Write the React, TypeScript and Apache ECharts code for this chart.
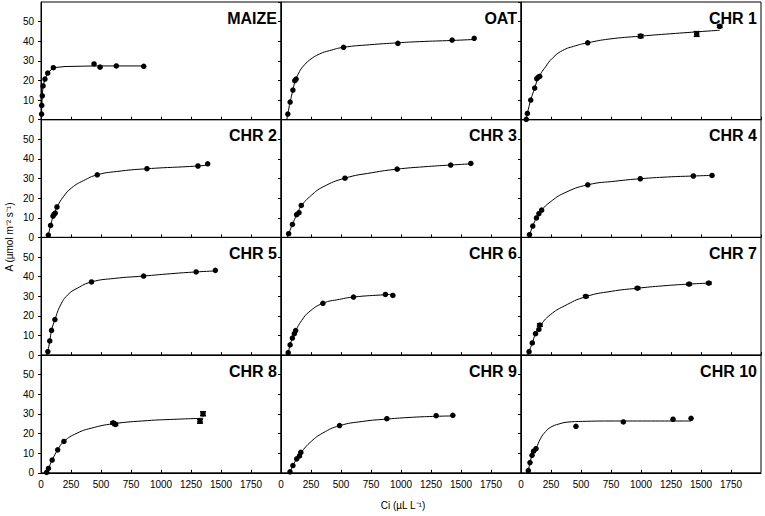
import React, { useEffect, useRef } from "react";
import * as echarts from "echarts";

// ---- Data (Ci in µL L-1, A in µmol m-2 s-1) ----
const panelNames = ["MAIZE", "OAT", "CHR 1", "CHR 2", "CHR 3", "CHR 4", "CHR 5", "CHR 6", "CHR 7", "CHR 8", "CHR 9", "CHR 10"];

const xTickLabels = ["0", "250", "500", "750", "1000", "1250", "1500", "1750"];
const yTickLabels = ["0", "10", "20", "30", "40", "50"];

const maizePts = [[5, 2.9], [6, 7.3], [11, 12.2], [17, 17.2], [33, 20.7], [56, 23.8], [103, 26.5], [442, 28.4], [492, 26.8], [628, 27.4], [856, 27.2]];
const maizeCurve = [[4, 0], [5, 3], [6, 7.3], [11, 12.2], [17, 17.2], [33, 20.7], [56, 23.8], [103, 26.5], [200, 27.1], [442, 27.4], [856, 27.4]];

const oatPts = [[57, 2.9], [76, 9.0], [99, 15.1], [115, 19.9], [126, 20.7], [521, 36.9], [974, 38.9], [1426, 40.6], [1610, 41.5]];
const oatCurve = [[48, 0], [57, 2.9], [76, 9.0], [99, 15.0], [120, 20.0], [154, 24.5], [182, 27.0], [238, 30.4], [321, 33.5], [404, 35.2], [521, 36.9], [738, 38.2], [974, 39.2], [1154, 39.8], [1426, 40.4], [1610, 40.9]];

const chr1Pts = [[44, 0.2], [53, 3.2], [81, 10.0], [114, 16.1], [131, 20.9], [144, 21.7], [156, 22.1], [556, 39.2], [997, 42.6], [1464, 43.7], [1656, 47.6]];
const chr1Curve = [[42, 0], [53, 3.2], [81, 10], [114, 16.1], [144, 21.2], [205, 27.0], [261, 31.3], [344, 35.2], [456, 37.7], [556, 39.2], [733, 41.1], [997, 42.6], [1289, 44.0], [1656, 45.6]];
const chr1Err = [[997, 0.8], [1464, 1.2], [1656, 0.6]];

const chr2Pts = [[61, 1.2], [80, 6.1], [100, 10.9], [108, 11.7], [119, 12.4], [133, 15.5], [469, 31.9], [883, 35.0], [1308, 36.4], [1389, 37.5]];
const chr2Curve = [[55, 0], [61, 1.2], [80, 6.1], [100, 10.5], [119, 13.5], [133, 15.5], [186, 20.7], [256, 25.3], [353, 28.9], [469, 31.9], [631, 33.6], [883, 35.0], [1308, 36.4], [1403, 37.0]];

const chr3Pts = [[64, 1.9], [95, 6.6], [130, 11.6], [150, 12.6], [169, 16.3], [533, 30.2], [968, 34.8], [1414, 36.9], [1582, 37.7]];
const chr3Curve = [[52, 0], [64, 1.9], [95, 6.6], [130, 11.4], [169, 16.0], [252, 21.4], [349, 25.7], [533, 30.2], [760, 33.0], [968, 34.8], [1191, 36.0], [1414, 36.9], [1582, 37.5]];

const chr4Pts = [[71, 1.4], [98, 5.8], [129, 9.9], [149, 12.1], [172, 13.9], [556, 26.8], [994, 29.9], [1436, 31.3], [1592, 31.6]];
const chr4Curve = [[59, 0], [71, 1.4], [98, 5.8], [129, 9.9], [172, 13.9], [243, 18.0], [360, 22.6], [556, 26.8], [791, 28.7], [994, 29.9], [1221, 30.8], [1436, 31.3], [1592, 31.6]];

const chr5Pts = [[57, 1.8], [73, 7.2], [88, 12.6], [116, 18.1], [421, 37.3], [855, 40.3], [1293, 42.4], [1453, 43.2]];
const chr5Curve = [[49, 0], [57, 1.8], [73, 7.2], [88, 12.6], [116, 18.1], [163, 25.5], [221, 30.6], [300, 34.0], [421, 37.3], [613, 39.1], [855, 40.3], [1082, 41.5], [1293, 42.4], [1453, 42.9]];

const chr6Pts = [[60, 1.2], [76, 5.2], [95, 8.7], [111, 10.9], [122, 12.5], [349, 26.4], [604, 29.6], [870, 30.9], [932, 30.4]];
const chr6Curve = [[52, 0], [60, 1.2], [76, 5.2], [95, 8.7], [111, 10.9], [122, 12.5], [173, 17.7], [232, 21.9], [349, 26.4], [487, 28.4], [604, 29.6], [870, 30.8], [932, 31.0]];

const chr7Pts = [[67, 1.75], [94, 6.2], [121, 10.9], [149, 13.1], [157, 15.3], [540, 29.9], [971, 34.1], [1401, 36.2], [1565, 36.7]];
const chr7Curve = [[55, 0], [67, 1.75], [94, 6.2], [121, 10.9], [157, 14.8], [243, 20.5], [360, 25.0], [540, 29.8], [752, 32.5], [971, 34.1], [1182, 35.3], [1401, 36.2], [1565, 36.7]];
const chr7Err = [[157, 0.6], [540, 0.5], [971, 0.5], [1401, 0.5], [1565, 0.5]];

const chr8Pts = [[47, 0.2], [62, 2.2], [93, 6.5], [139, 11.7], [191, 16.0], [601, 25.5], [620, 24.7], [1325, 26.3], [1350, 30.1]];
const chr8Curve = [[42, 0], [62, 2.2], [93, 6.5], [139, 11.7], [191, 16.0], [300, 20.2], [417, 22.7], [601, 25.0], [887, 26.6], [1082, 27.2], [1352, 27.8]];
const chr8Err = [[601, 0.5], [620, 0.6], [1325, 1.0], [1350, 1.0]];

const chr9Pts = [[75, 0.5], [99, 3.7], [131, 7.1], [154, 8.6], [165, 10.4], [488, 24.1], [882, 27.6], [1293, 29.1], [1432, 29.3]];
const chr9Curve = [[68, 0], [75, 0.5], [99, 3.7], [131, 7.1], [165, 10.2], [252, 16.0], [349, 20.3], [487, 24.0], [682, 26.2], [885, 27.4], [1093, 28.3], [1296, 28.8], [1437, 29.0]];

const chr10Pts = [[61, 1.1], [75, 5.2], [92, 8.9], [105, 11.0], [125, 12.3], [458, 23.7], [853, 25.9], [1267, 27.3], [1417, 27.8]];
const chr10Curve = [[58, 0], [61, 1.1], [75, 5.2], [92, 8.9], [105, 11.0], [125, 12.5], [164, 17.6], [205, 21.0], [247, 23.2], [317, 24.9], [400, 25.9], [511, 26.2], [733, 26.4], [1011, 26.4], [1417, 26.4]];

const panelPts = [maizePts, oatPts, chr1Pts, chr2Pts, chr3Pts, chr4Pts, chr5Pts, chr6Pts, chr7Pts, chr8Pts, chr9Pts, chr10Pts];
const panelCurves = [maizeCurve, oatCurve, chr1Curve, chr2Curve, chr3Curve, chr4Curve, chr5Curve, chr6Curve, chr7Curve, chr8Curve, chr9Curve, chr10Curve];
const panelErrs: Record<number, number[][]> = { 2: chr1Err, 8: chr7Err, 9: chr8Err };

const FONT = 'Arial, "Liberation Sans", sans-serif';

export default function App() {
  const ref = useRef<HTMLDivElement>(null);
  useEffect(() => {
    if (!ref.current) return;
    const chart = echarts.init(ref.current, undefined, { renderer: "svg" });
    const LEFT = 41, TOP = 2, PW = 240, PH = 117.7;
    const grids: any[] = [], xAxes: any[] = [], yAxes: any[] = [], series: any[] = [], graphics: any[] = [];
    panelNames.forEach((name, i) => {
      const r = Math.floor(i / 3), c = i % 3;
      const left = LEFT + c * PW, top = TOP + r * PH;
      grids.push({ left, top, width: PW, height: PH, show: true, borderColor: "#000", borderWidth: 1, backgroundColor: "transparent" });
      xAxes.push({
        gridIndex: i, type: "value", min: 0, max: 2000, interval: 250,
        axisLine: { show: true, onZero: false, lineStyle: { color: "#000", width: 1 } },
        axisTick: { show: true, inside: true, length: 3, lineStyle: { color: "#000" } },
        axisLabel: {
          show: r === 3, showMaxLabel: false, color: "#000", fontSize: 10, margin: 7, fontFamily: FONT,
          formatter: (v: number) => (xTickLabels.includes(String(v)) ? String(v) : ""),
        },
        splitLine: { show: false },
      });
      yAxes.push({
        gridIndex: i, type: "value", min: 0, max: 60, interval: 10,
        axisLine: { show: true, onZero: false, lineStyle: { color: "#000", width: 1 } },
        axisTick: { show: true, inside: false, length: 3, lineStyle: { color: "#000" } },
        axisLabel: {
          show: c === 0, showMaxLabel: false, color: "#000", fontSize: 10, margin: 7, fontFamily: FONT,
          formatter: (v: number) => (yTickLabels.includes(String(v)) ? String(v) : ""),
        },
        splitLine: { show: false },
      });
      series.push({
        type: "line", xAxisIndex: i, yAxisIndex: i, data: panelCurves[i], smooth: i === 0 ? false : 0.5,
        showSymbol: false, symbol: "none", lineStyle: { color: "#000", width: 1 }, z: 2, silent: true,
      });
      const errs = panelErrs[i];
      if (errs) {
        const pts = panelPts[i];
        const data = errs.map(([x, e]) => {
          const p = pts.find((q) => q[0] === x)!;
          return [x, p[1] - e, p[1] + e];
        });
        series.push({
          type: "custom", xAxisIndex: i, yAxisIndex: i, data, z: 3, silent: true,
          renderItem: (params: any, api: any) => {
            const lo = api.coord([api.value(0), api.value(1)]);
            const hi = api.coord([api.value(0), api.value(2)]);
            const w = 3;
            const st = { stroke: "#000", lineWidth: 1.5 };
            return {
              type: "group",
              children: [
                { type: "line", shape: { x1: lo[0], y1: lo[1], x2: hi[0], y2: hi[1] }, style: st },
                { type: "line", shape: { x1: lo[0] - w, y1: lo[1], x2: lo[0] + w, y2: lo[1] }, style: st },
                { type: "line", shape: { x1: hi[0] - w, y1: hi[1], x2: hi[0] + w, y2: hi[1] }, style: st },
              ],
            };
          },
        });
      }
      series.push({
        type: "scatter", xAxisIndex: i, yAxisIndex: i, data: panelPts[i], symbol: "circle", symbolSize: 5.5,
        itemStyle: { color: "#000", opacity: 1 }, z: 4, silent: true,
      });
      graphics.push({
        type: "text", x: left + PW - 4, y: top + 8, z: 10,
        style: { text: name, font: `bold 16px ${FONT}`, fill: "#000", align: "right", verticalAlign: "top" },
      });
    });
    graphics.push({
      type: "text", x: 9, y: 237, rotation: Math.PI / 2,
      style: { text: "A (µmol m⁻² s⁻¹)", font: `10px ${FONT}`, fill: "#000", align: "center", verticalAlign: "middle" },
    });
    graphics.push({
      type: "text", x: 403, y: 505,
      style: { text: "Ci (µL L⁻¹)", font: `10px ${FONT}`, fill: "#000", align: "center", verticalAlign: "middle" },
    });
    chart.setOption({
      animation: false,
      backgroundColor: "#fff",
      grid: grids,
      xAxis: xAxes,
      yAxis: yAxes,
      series,
      graphic: graphics,
    });
    return () => chart.dispose();
  }, []);
  return <div ref={ref} style={{ position: "fixed", left: 0, top: 0, width: 765, height: 516 }} />;
}
